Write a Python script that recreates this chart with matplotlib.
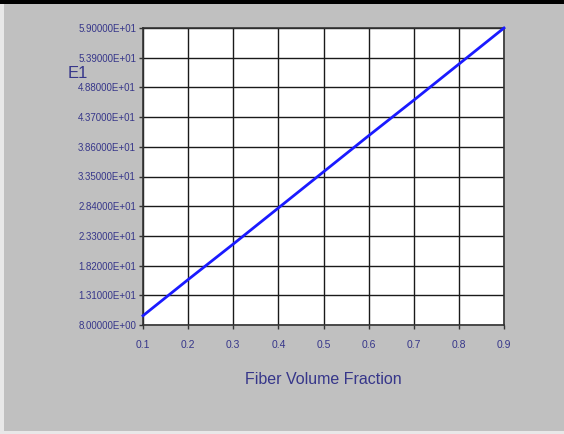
import matplotlib
matplotlib.use("Agg")
import matplotlib.pyplot as plt
from matplotlib import font_manager
from matplotlib.patches import Rectangle

# fiber volume fraction vs longitudinal modulus E1
vf = [0.1, 0.2, 0.3, 0.4, 0.5, 0.6, 0.7, 0.8, 0.9]
e1 = [9.6, 15.8, 21.9, 28.1, 34.3, 40.5, 46.6, 52.8, 59.0]

y_ticks = [8.0, 13.1, 18.2, 23.3, 28.4, 33.5, 38.6, 43.7, 48.8, 53.9, 59.0]
x_ticks = [0.1, 0.2, 0.3, 0.4, 0.5, 0.6, 0.7, 0.8, 0.9]

names = {f.name for f in font_manager.fontManager.ttflist}
narrow = "Liberation Sans Narrow" if "Liberation Sans Narrow" in names else "Liberation Sans"

bg = "#c0c0c0"
txt = "#36368a"

fig = plt.figure(figsize=(5.64, 4.34), dpi=100, facecolor=bg)

# frame strips around the panel
fig.patches.append(Rectangle((0, 1 - 4 / 434), 1, 4 / 434, transform=fig.transFigure,
                             facecolor="black", edgecolor="none", zorder=0))
fig.patches.append(Rectangle((0, 0), 4 / 564, 1 - 4 / 434, transform=fig.transFigure,
                             facecolor="#e8e8e8", edgecolor="none", zorder=0))
fig.patches.append(Rectangle((0, 0), 1, 3 / 434, transform=fig.transFigure,
                             facecolor="#e8e8e8", edgecolor="none", zorder=0))

ax = fig.add_axes([143 / 564, 1 - 325 / 434, (504 - 143) / 564, (325 - 28) / 434])
ax.set_facecolor("white")
ax.plot(vf, e1, color="#1a1aff", linewidth=2, zorder=3, clip_on=False)

ax.set_xlim(0.1, 0.9)
ax.set_ylim(8.0, 59.0)
ax.set_xticks(x_ticks)
ax.set_yticks(y_ticks)
ax.set_xticklabels([f"{v:.1f}" for v in x_ticks], fontsize=7.5, family=narrow, color=txt)
ax.set_yticklabels([f"{v:.5E}" for v in y_ticks], fontsize=7, family=narrow, color=txt)
ax.tick_params(axis="y", length=3, width=1, color="#333333", pad=2)
ax.tick_params(axis="x", length=3, width=1, color="#333333", pad=8)
ax.grid(True, color="#1a1a1a", linewidth=1)
ax.set_axisbelow(True)
for s in ax.spines.values():
    s.set_color("#333333")
    s.set_linewidth(1.2)

ax.set_xlabel("Fiber Volume Fraction", fontsize=11.5, family=narrow, color=txt, labelpad=16)
fig.text(78 / 564, 1 - 74 / 434, "E1", fontsize=12, family=narrow, color=txt,
         ha="center", va="center")

fig.savefig("out.png", dpi=100, facecolor=bg)
